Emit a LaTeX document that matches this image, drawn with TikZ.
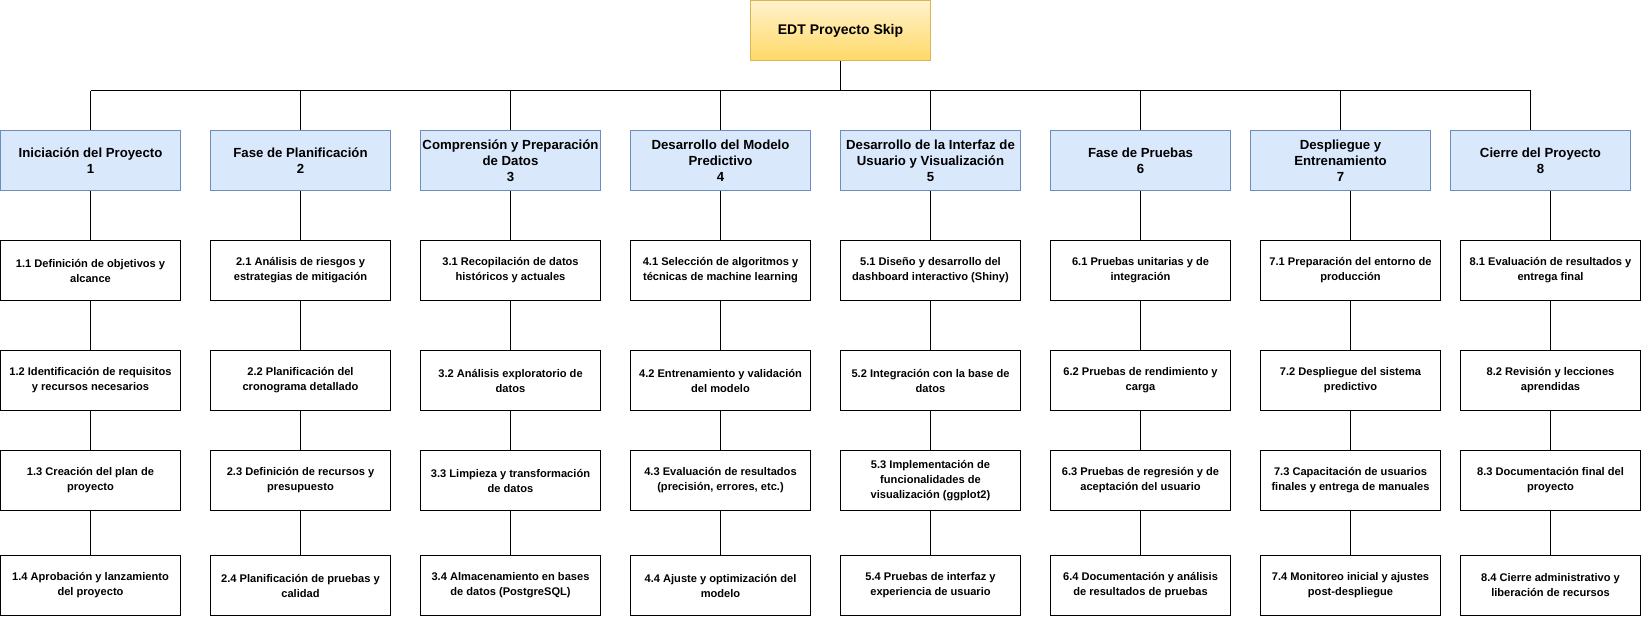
\documentclass[tikz,border=0pt]{standalone}
\usepackage{fontspec}
\setmainfont{Liberation Sans}
\definecolor{phasefill}{HTML}{DAE8FC}
\definecolor{phaseborder}{HTML}{6C8EBF}
\definecolor{roottop}{HTML}{FFF2CC}
\definecolor{rootbottom}{HTML}{FFD966}
\definecolor{rootborder}{HTML}{D6B656}
\tikzset{
  root/.style={draw=rootborder, line width=1pt, top color=roottop, bottom color=rootbottom,
    minimum width=180pt, minimum height=60pt, inner sep=0pt, align=center,
    font=\bfseries\fontsize{14}{17}\selectfont},
  phase/.style={draw=phaseborder, line width=1pt, fill=phasefill,
    minimum width=180pt, minimum height=60pt, inner sep=0pt, align=center,
    font=\bfseries\fontsize{13.2}{16}\selectfont},
  task/.style={draw=black, line width=1pt, fill=white,
    minimum width=180pt, minimum height=60pt, inner sep=0pt, align=center,
    font=\bfseries\fontsize{11.1}{15}\selectfont},
  link/.style={draw=black, line width=1pt}
}
\begin{document}
\begin{tikzpicture}[x=1pt,y=-1pt]
\useasboundingbox (0,0) rectangle (1641,616);
% root
\node[root] (root) at (840.5,30.5) {EDT Proyecto Skip};
% phases
\node[phase] (p1) at (90.5,160.5) {Iniciación del Proyecto\\1};
\node[phase] (p2) at (300.5,160.5) {Fase de Planificación\\2};
\node[phase] (p3) at (510.5,160.5) {Comprensión y Preparación\\de Datos\\3};
\node[phase] (p4) at (720.5,160.5) {Desarrollo del Modelo\\Predictivo\\4};
\node[phase] (p5) at (930.5,160.5) {Desarrollo de la Interfaz de\\Usuario y Visualización\hspace*{9pt}\\5};
\node[phase] (p6) at (1140.5,160.5) {Fase de Pruebas\\6};
\node[phase] (p7) at (1340.5,160.5) {Despliegue y\\Entrenamiento\\7};
\node[phase] (p8) at (1540.5,160.5) {Cierre del Proyecto\\8};
% tasks column 1
\node[task] (t11) at (90.5,270.5) {1.1 Definición de objetivos y\\alcance};
\node[task] (t12) at (90.5,380.5) {1.2 Identificación de requisitos\\y recursos necesarios};
\node[task] (t13) at (90.5,480.5) {1.3 Creación del plan de\\proyecto};
\node[task] (t14) at (90.5,585.5) {1.4 Aprobación y lanzamiento\\del proyecto};
% column 2
\node[task] (t21) at (300.5,270.5) {2.1 Análisis de riesgos y\\estrategias de mitigación};
\node[task] (t22) at (300.5,380.5) {2.2 Planificación del\\cronograma detallado};
\node[task] (t23) at (300.5,480.5) {2.3 Definición de recursos y\\presupuesto};
\node[task] (t24) at (300.5,585.5) {2.4 Planificación de pruebas y\\calidad};
% column 3
\node[task] (t31) at (510.5,270.5) {3.1 Recopilación de datos\\históricos y actuales};
\node[task] (t32) at (510.5,380.5) {3.2 Análisis exploratorio de\\datos};
\node[task] (t33) at (510.5,480.5) {3.3 Limpieza y transformación\\de datos};
\node[task] (t34) at (510.5,585.5) {3.4 Almacenamiento en bases\\de datos (PostgreSQL)};
% column 4
\node[task] (t41) at (720.5,270.5) {4.1 Selección de algoritmos y\\técnicas de machine learning};
\node[task] (t42) at (720.5,380.5) {4.2 Entrenamiento y validación\\del modelo};
\node[task] (t43) at (720.5,480.5) {4.3 Evaluación de resultados\\(precisión, errores, etc.)};
\node[task] (t44) at (720.5,585.5) {4.4 Ajuste y optimización del\\modelo};
% column 5
\node[task] (t51) at (930.5,270.5) {5.1 Diseño y desarrollo del\\dashboard interactivo (Shiny)};
\node[task] (t52) at (930.5,380.5) {5.2 Integración con la base de\\datos};
\node[task] (t53) at (930.5,480.5) {5.3 Implementación de\\funcionalidades de\\visualización (ggplot2)};
\node[task] (t54) at (930.5,585.5) {5.4 Pruebas de interfaz y\\experiencia de usuario};
% column 6
\node[task] (t61) at (1140.5,270.5) {6.1 Pruebas unitarias y de\\integración};
\node[task] (t62) at (1140.5,380.5) {6.2 Pruebas de rendimiento y\\carga};
\node[task] (t63) at (1140.5,480.5) {6.3 Pruebas de regresión y de\\aceptación del usuario};
\node[task] (t64) at (1140.5,585.5) {6.4 Documentación y análisis\\de resultados de pruebas};
% column 7
\node[task] (t71) at (1350.5,270.5) {7.1 Preparación del entorno de\\producción};
\node[task] (t72) at (1350.5,380.5) {7.2 Despliegue del sistema\\predictivo};
\node[task] (t73) at (1350.5,480.5) {7.3 Capacitación de usuarios\\finales y entrega de manuales};
\node[task] (t74) at (1350.5,585.5) {7.4 Monitoreo inicial y ajustes\\post-despliegue};
% column 8
\node[task] (t81) at (1550.5,270.5) {8.1 Evaluación de resultados y\\entrega final};
\node[task] (t82) at (1550.5,380.5) {8.2 Revisión y lecciones\\aprendidas};
\node[task] (t83) at (1550.5,480.5) {8.3 Documentación final del\\proyecto};
\node[task] (t84) at (1550.5,585.5) {8.4 Cierre administrativo y\\liberación de recursos};
% bus
\coordinate (bL) at (90.5,90.5);
\coordinate (bR) at (1530.5,90.5);
\draw[link] (root.south) -- (root.south |- bL);
\draw[link] (bL) -- (bR);
\foreach \i in {1,...,7} {
  \draw[link] (p\i.north) -- (p\i.north |- bL);
}
\draw[link] (bR) -- (bR |- p8.north);
% phase to tasks
\foreach \i in {1,...,8} {
  \draw[link] (t\i1.north) -- (t\i1.north |- p\i.south);
  \draw[link] (t\i1) -- (t\i2);
  \draw[link] (t\i2) -- (t\i3);
  \draw[link] (t\i3) -- (t\i4);
}
\end{tikzpicture}
\end{document}
